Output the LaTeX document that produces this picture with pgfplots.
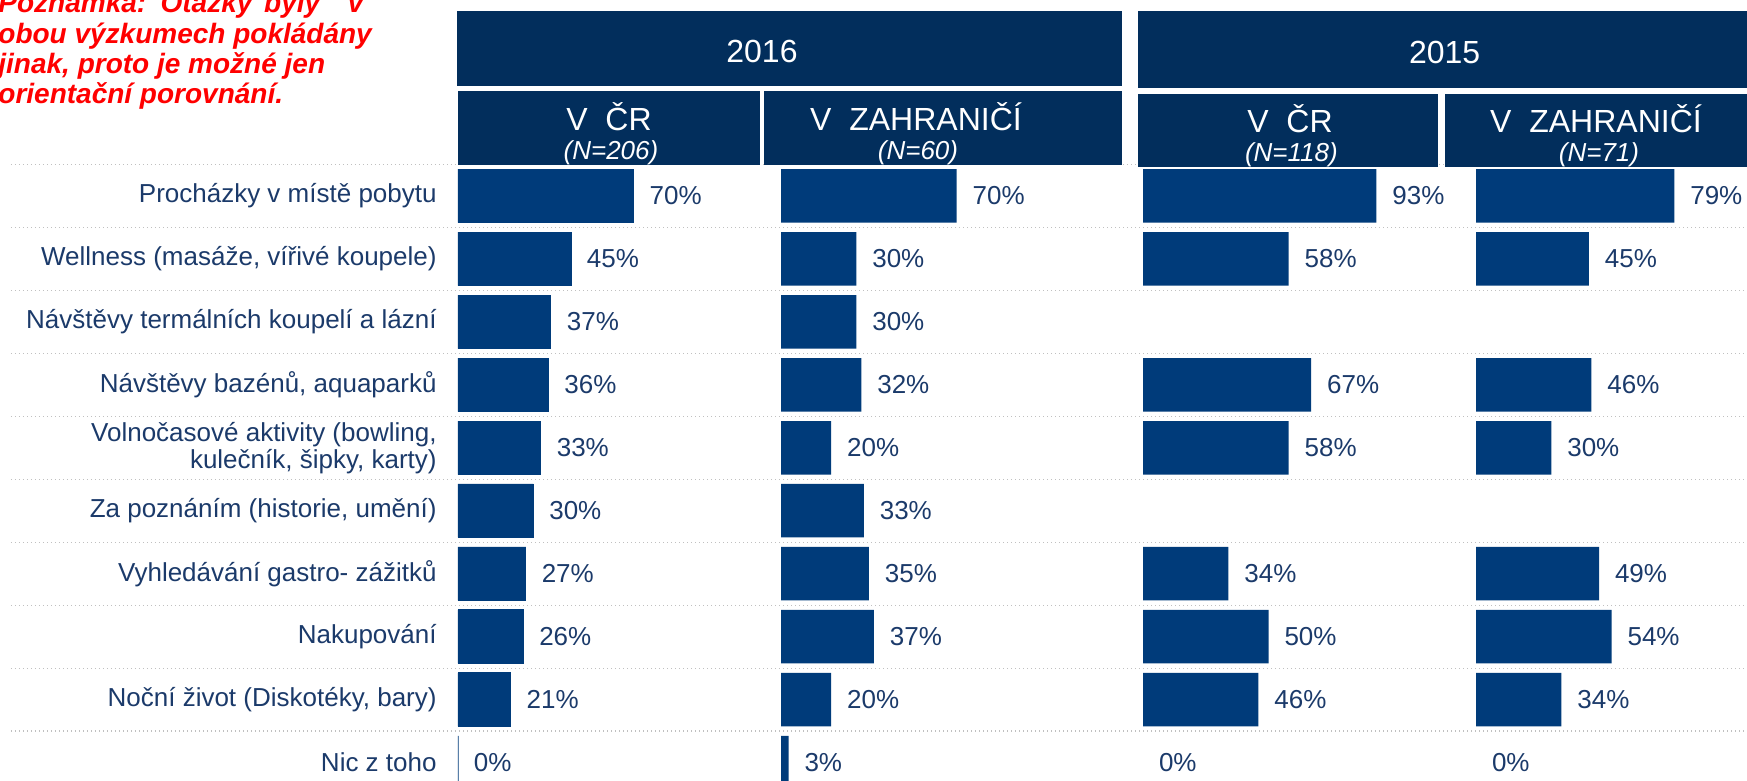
\documentclass[border=0pt]{standalone}
\usepackage{fontspec}
\setmainfont{Liberation Sans}
\usepackage{pgfplots}
\pgfplotsset{compat=1.18}
\definecolor{barblue}{HTML}{003B7A}
\definecolor{hdrblue}{HTML}{022E5C}
\definecolor{txtblue}{HTML}{1B3A6A}
\definecolor{sepgray}{HTML}{C0C0C0}
\definecolor{notered}{HTML}{FF0000}
\pgfplotsset{
  colbase/.style={
    scale only axis, width=125.5pt, height=314.75pt,
    xmin=0, xmax=100, ymin=0.5, ymax=10.5, y dir=reverse,
    enlargelimits=false, clip=false, xbar, bar width=26.75pt, bar shift=0pt,
    anchor=north west,
    /pgf/number format/assume math mode=true,
    point meta=x,
    nodes near coords={\pgfmathprintnumber{\pgfplotspointmeta}\%},
    every node near coord/.append style={anchor=west, inner sep=0pt, xshift=7.8pt,
      font=\fontsize{13}{13}\selectfont, text=txtblue},
  },
}
\begin{document}
\begin{tikzpicture}
\path[use as bounding box, clip] (0pt,0pt) rectangle (873.5pt,390.5pt);
% separators
\begin{axis}[scale only axis, width=868pt, height=314.75pt, at={(5.5pt,308.25pt)}, anchor=north west,
  xmin=0, xmax=1, ymin=0.5, ymax=10.5, y dir=reverse, enlargelimits=false,
  hide x axis, axis line style={draw=none}, ytick={0.5,1.5,...,9.5}, yticklabels={,,,,,,,,,,},
  ymajorgrids, grid style={sepgray, line width=0.6pt, dash pattern=on 0.6pt off 1.4pt},
  ytick style={draw=none}]
\addplot[draw=none] coordinates {(0,1)};
\end{axis}
% column 1: 2016 CR
\begin{axis}[colbase, at={(229pt,308.25pt)}, hide x axis, axis line style={draw=none},
  ytick={1,...,10}, ytick style={draw=none}, major tick length=0pt,
  yticklabels={{Procházky v místě pobytu},{Wellness (masáže, vířivé koupele)},{Návštěvy termálních koupelí a lázní},{Návštěvy bazénů, aquaparků},{Volnočasové aktivity (bowling,\\kulečník, šipky, karty)},{Za poznáním (historie, umění)},{Vyhledávání gastro- zážitků},{Nakupování},{Noční život (Diskotéky, bary)},{Nic z toho}},
  yticklabel style={align=right, inner sep=0pt, xshift=-10.5pt, text=txtblue,
    font=\fontsize{13}{13.4}\selectfont}]
\addplot[fill=barblue, draw=barblue, line width=0.4pt] coordinates {
(70,1) (45,2) (37,3) (36,4) (33,5) (30,6) (27,7) (26,8) (21,9) (0,10)};
\end{axis}
% column 2: 2016 zahranici
\begin{axis}[colbase, at={(390.5pt,308.25pt)}, hide axis]
\addplot[fill=barblue, draw=none] coordinates {
(70,1) (30,2) (30,3) (32,4) (20,5) (33,6) (35,7) (37,8) (20,9) (3,10)};
\end{axis}
% column 3: 2015 CR
\begin{axis}[colbase, at={(571.5pt,308.25pt)}, hide axis]
\addplot[fill=barblue, draw=none] coordinates {
(93,1) (58,2) (67,4) (58,5) (34,7) (50,8) (46,9)};
\addplot[fill=none, draw=none] coordinates {(0,10)};
\end{axis}
% column 4: 2015 zahranici
\begin{axis}[colbase, at={(738pt,308.25pt)}, hide axis]
\addplot[fill=barblue, draw=none] coordinates {
(79,1) (45,2) (46,4) (30,5) (49,7) (54,8) (34,9)};
\addplot[fill=none, draw=none] coordinates {(0,10)};
\end{axis}
% headers
\fill[hdrblue] (228.5pt,347.5pt) rectangle (561pt,385pt);
\fill[hdrblue] (229pt,308pt) rectangle (380pt,345pt);
\fill[hdrblue] (382pt,308pt) rectangle (561pt,345pt);
\fill[hdrblue] (569pt,346.5pt) rectangle (880pt,385pt);
\fill[hdrblue] (569pt,307pt) rectangle (719pt,343.5pt);
\fill[hdrblue] (722.5pt,307pt) rectangle (880pt,343.5pt);
\begin{scope}[every node/.style={text=white, inner sep=0pt}]
\node[font=\fontsize{16}{16}\selectfont] at (381pt,365pt) {2016};
\node[font=\fontsize{16}{16}\selectfont] at (722.3pt,364.5pt) {2015};
\node[font=\fontsize{16}{16}\selectfont] at (304.5pt,332pt) {V\ \ ČR};
\node[font=\fontsize{13}{13}\selectfont\itshape] at (305.5pt,314pt) {(N=206)};
\node[font=\fontsize{16}{16}\selectfont] at (458pt,332pt) {V\ \ ZAHRANIČÍ};
\node[font=\fontsize{13}{13}\selectfont\itshape] at (459pt,314pt) {(N=60)};
\node[font=\fontsize{16}{16}\selectfont] at (645pt,331pt) {V\ \ ČR};
\node[font=\fontsize{13}{13}\selectfont\itshape] at (645.7pt,313pt) {(N=118)};
\node[font=\fontsize{16}{16}\selectfont] at (798pt,331pt) {V\ \ ZAHRANIČÍ};
\node[font=\fontsize{13}{13}\selectfont\itshape] at (799.5pt,313pt) {(N=71)};
\end{scope}
% note
\node[anchor=base west, align=left, inner sep=0pt, text=notered,
  font=\fontsize{14}{15.2}\selectfont\bfseries\itshape] at (-1pt,338.5pt)
  {Poznámka:\hspace{2pt} Otázky\hspace{2pt} byly\hspace{10pt} v\\obou výzkumech pokládány\\jinak, proto je možné jen\\orientační porovnání.};
\end{tikzpicture}
\end{document}
